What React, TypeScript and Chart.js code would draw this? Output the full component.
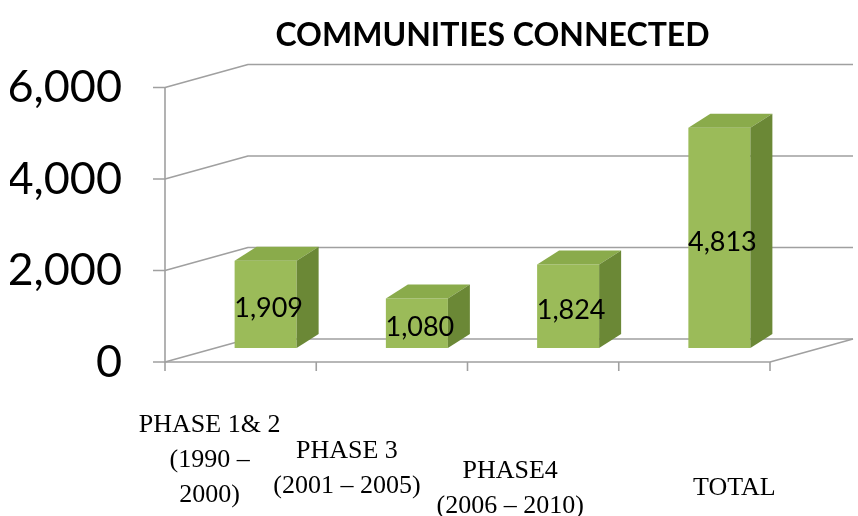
import React, { useEffect, useRef } from "react";
import { Chart, registerables } from "chart.js";

Chart.register(...registerables);

// ---- data ----
const title = "COMMUNITIES CONNECTED";
const categories: string[][] = [
  ["PHASE 1& 2", "(1990 –", "2000)"],
  ["PHASE 3", "(2001 – 2005)"],
  ["PHASE4", "(2006 – 2010)"],
  ["TOTAL"],
];
const communities = [1909, 1080, 1824, 4813];
const yTicks = [0, 2000, 4000, 6000];

// ---- styling / layout ----
const FRONT = { dx: -25, dy: 14 };
const BACK = { dx: 58, dy: -9 };
const DEPTH = { dx: 22, dy: -14 };
const GRID = "#a0a0a0";
const FACE = "#9bbb59";
const TOP = "#8aab4b";
const SIDE = "#6b8836";
const SANS = "Lato, 'Open Sans', sans-serif";
const SERIF = "'Liberation Serif', 'DejaVu Serif', serif";
// per-label nudge [dx from bar centre, baseline y below plot bottom]
const labelNudge = [
  [-56, 84],
  [-70, 110],
  [-58, 130],
  [15, 147],
];

const walls = {
  id: "walls",
  beforeDatasetsDraw(chart: any) {
    const { ctx, chartArea, scales } = chart;
    const y = scales.y;
    const L = chartArea.left;
    const R = chartArea.right;
    const T = chartArea.top;
    const B = chartArea.bottom;
    ctx.save();
    ctx.strokeStyle = GRID;
    ctx.lineWidth = 1.6;
    ctx.lineJoin = "round";
    yTicks.forEach((v) => {
      const yy = y.getPixelForValue(v);
      ctx.beginPath();
      ctx.moveTo(L + FRONT.dx - 12, yy + FRONT.dy);
      ctx.lineTo(L + FRONT.dx, yy + FRONT.dy);
      ctx.lineTo(L + BACK.dx, yy + BACK.dy);
      ctx.lineTo(R + BACK.dx, yy + BACK.dy);
      ctx.stroke();
    });
    ctx.beginPath();
    ctx.moveTo(L + FRONT.dx, T + FRONT.dy);
    ctx.lineTo(L + FRONT.dx, B + FRONT.dy);
    ctx.lineTo(R + FRONT.dx, B + FRONT.dy);
    ctx.lineTo(R + BACK.dx, B + BACK.dy);
    ctx.stroke();
    const n = categories.length;
    for (let k = 0; k <= n; k++) {
      const xx = L + FRONT.dx + (k * (R - L)) / n;
      ctx.beginPath();
      ctx.moveTo(xx, B + FRONT.dy);
      ctx.lineTo(xx, B + FRONT.dy + 9);
      ctx.stroke();
    }
    ctx.restore();
  },
  afterDatasetsDraw(chart: any) {
    const { ctx, chartArea, scales } = chart;
    const meta = chart.getDatasetMeta(0);
    ctx.save();
    meta.data.forEach((bar: any, i: number) => {
      const { x, y, base, width } = bar.getProps(["x", "y", "base", "width"], true);
      const x1 = x - width / 2;
      const x2 = x + width / 2;
      ctx.fillStyle = TOP;
      ctx.beginPath();
      ctx.moveTo(x1, y);
      ctx.lineTo(x1 + DEPTH.dx, y + DEPTH.dy);
      ctx.lineTo(x2 + DEPTH.dx, y + DEPTH.dy);
      ctx.lineTo(x2, y);
      ctx.closePath();
      ctx.fill();
      ctx.fillStyle = SIDE;
      ctx.beginPath();
      ctx.moveTo(x2, y);
      ctx.lineTo(x2 + DEPTH.dx, y + DEPTH.dy);
      ctx.lineTo(x2 + DEPTH.dx, base + DEPTH.dy);
      ctx.lineTo(x2, base);
      ctx.closePath();
      ctx.fill();
      ctx.fillStyle = "#000";
      ctx.font = `27px ${SANS}`;
      ctx.textAlign = "center";
      ctx.textBaseline = "middle";
      ctx.fillText(communities[i].toLocaleString("en-US"), x + 3, (y + base) / 2 + 4);
    });
    const xs = scales.x;
    ctx.font = `26px ${SERIF}`;
    ctx.textAlign = "center";
    ctx.textBaseline = "alphabetic";
    ctx.fillStyle = "#000";
    categories.forEach((lines, i) => {
      const cx = xs.getPixelForValue(i) + labelNudge[i][0];
      const by = chartArea.bottom + labelNudge[i][1];
      lines.forEach((ln, j) => ctx.fillText(ln, cx, by + j * 35));
    });
    ctx.restore();
  },
};

export default function App() {
  const ref = useRef<HTMLCanvasElement>(null);
  useEffect(() => {
    document.body.style.margin = "0";
    const chart = new Chart(ref.current!, {
      type: "bar",
      data: {
        labels: categories.map((c) => c.join(" ")),
        datasets: [
          {
            data: communities,
            backgroundColor: FACE,
            borderWidth: 0,
            barPercentage: 0.41,
            categoryPercentage: 1,
          },
        ],
      },
      options: {
        animation: false,
        responsive: false,
        devicePixelRatio: 1,
        layout: { padding: { left: 10, right: 63, top: 0, bottom: 168 } },
        plugins: {
          legend: { display: false },
          tooltip: { enabled: false },
          title: {
            display: true,
            text: title,
            fullSize: false,
            color: "#000",
            font: { family: SANS, size: 32, weight: "bold" },
            padding: { top: 0, bottom: 19 },
          },
        },
        scales: {
          x: { display: false },
          y: {
            min: 0,
            max: 6000,
            afterFit: (s: any) => {
              s.width = 180;
            },
            afterBuildTicks: (s: any) => {
              s.ticks = yTicks.map((v) => ({ value: v }));
            },
            grid: { display: false },
            border: { display: false },
            ticks: {
              padding: 60,
              labelOffset: FRONT.dy,
              color: "#000",
              font: { family: SANS, size: 45, lineHeight: 0.6 },
              callback: (v: any) => Number(v).toLocaleString("en-US"),
            },
          },
        },
      },
      plugins: [walls],
    });
    return () => chart.destroy();
  }, []);
  return (
    <div style={{ width: 858, height: 516 }}>
      <canvas ref={ref} width={858} height={516} />
    </div>
  );
}
